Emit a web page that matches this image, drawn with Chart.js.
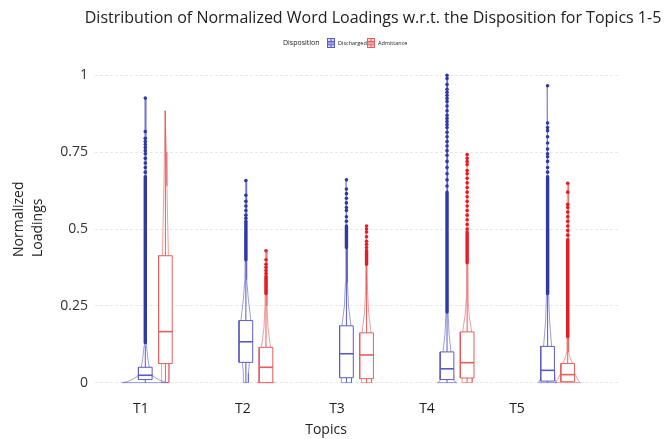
<!DOCTYPE html>
<html>
<head>
<meta charset="utf-8">
<script src="https://cdn.jsdelivr.net/npm/chart.js@4/dist/chart.umd.min.js"></script>
<style>
	body { margin: 0; background: #fff; }
	#wrap { width: 666px; height: 439px; }
</style>
</head>
<body>
<div id="wrap"><canvas id="topicChart"></canvas></div>
<script>
const topics = ['T1', 'T2', 'T3', 'T4', 'T5'];
const yTicks = [0, 0.25, 0.5, 0.75, 1];

// Discharged: box stats, whisker top, dense outlier run, single outliers, violin profile [value, density]
const dischargedQ1 = [0.01, 0.066, 0.016, 0.01, 0.005];
const dischargedMedian = [0.024, 0.133, 0.094, 0.045, 0.04];
const dischargedQ3 = [0.05, 0.202, 0.185, 0.10, 0.118];
const dischargedWhisker = [0.12, 0.40, 0.44, 0.23, 0.29];
const dischargedDense = [[0.13, 0.67], [0.40, 0.525], [0.44, 0.51], [0.23, 0.62], [0.29, 0.67]];
const dischargedOutliers = [
	[0.926, 0.817, 0.795, 0.785, 0.775, 0.765, 0.755, 0.745, 0.73, 0.715, 0.70, 0.685],
	[0.658, 0.61, 0.59, 0.575, 0.56, 0.545, 0.535],
	[0.66, 0.63, 0.615, 0.60, 0.585, 0.57, 0.56, 0.54, 0.525],
	[1.0, 0.99, 0.97, 0.955, 0.945, 0.935, 0.925, 0.915, 0.90, 0.885, 0.87, 0.86, 0.85, 0.84, 0.83, 0.815, 0.80, 0.785, 0.77, 0.755, 0.74, 0.72, 0.70, 0.68, 0.66, 0.64],
	[0.966, 0.845, 0.83, 0.82, 0.80, 0.78, 0.76, 0.745, 0.735, 0.72, 0.70, 0.685]
];
const dischargedViolin = [
	[[0, 23], [0.003, 18], [0.01, 13], [0.02, 8], [0.03, 6], [0.05, 4], [0.08, 2.5], [0.12, 1.2], [0.2, 0.6], [0.926, 0.4]],
	[[0, 2.5], [0.03, 2.5], [0.066, 3.5], [0.13, 6], [0.2, 5], [0.27, 2.5], [0.335, 1], [0.45, 0.6], [0.658, 0.4]],
	[[0, 5], [0.016, 5], [0.1, 6], [0.185, 4.5], [0.25, 2], [0.325, 1], [0.45, 0.6], [0.66, 0.4]],
	[[0, 9.5], [0.006, 7], [0.05, 6], [0.1, 4], [0.16, 2], [0.23, 1], [0.5, 0.6], [1.0, 0.4]],
	[[0, 9], [0.01, 7.5], [0.04, 7], [0.118, 4], [0.2, 2], [0.29, 1], [0.5, 0.6], [0.966, 0.4]]
];

// Admittance
const admittanceQ1 = [0.062, 0.0, 0.013, 0.015, 0.003];
const admittanceMedian = [0.166, 0.05, 0.09, 0.065, 0.026];
const admittanceQ3 = [0.413, 0.115, 0.162, 0.165, 0.062];
const admittanceWhisker = [0.885, 0.288, 0.385, 0.39, 0.15];
const admittanceDense = [null, [0.29, 0.34], [0.385, 0.43], [0.39, 0.49], [0.15, 0.465]];
const admittanceOutliers = [
	[],
	[0.429, 0.40, 0.385, 0.375, 0.365, 0.355, 0.345],
	[0.51, 0.50, 0.49, 0.475, 0.46, 0.45, 0.44],
	[0.742, 0.73, 0.72, 0.71, 0.69, 0.68, 0.665, 0.65, 0.635, 0.62, 0.605, 0.59, 0.575, 0.56, 0.545, 0.53, 0.515, 0.50],
	[0.649, 0.62, 0.58, 0.57, 0.555, 0.54, 0.525, 0.51, 0.495, 0.48]
];
const admittanceViolin = [
	[[0, 3.5], [0.062, 3.5], [0.2, 4], [0.413, 3], [0.64, 1.5], [0.75, 1], [0.885, 0.4]],
	[[0, 8.5], [0.005, 6], [0.05, 6], [0.115, 4.5], [0.18, 2], [0.25, 1], [0.429, 0.4]],
	[[0, 5], [0.013, 5], [0.09, 6], [0.162, 4.5], [0.23, 2], [0.3, 1], [0.51, 0.4]],
	[[0, 5], [0.015, 5], [0.065, 6], [0.165, 4.5], [0.22, 2], [0.27, 1], [0.742, 0.4]],
	[[0, 12.5], [0.01, 10], [0.03, 7], [0.062, 5], [0.08, 2.5], [0.1, 1], [0.15, 0.8], [0.649, 0.4]]
];

// layout bits
const DODGE = 0.1;
const BOX_HALF = 0.068;
const VIOLIN_UNIT = 0.01;
const TICK_OFFSET = [-0.143, -0.129, -0.194, -0.299, -0.404];
const FONT = "'Open Sans', sans-serif";

const series = [
	{ q1: dischargedQ1, med: dischargedMedian, q3: dischargedQ3, wh: dischargedWhisker, dense: dischargedDense, out: dischargedOutliers, violin: dischargedViolin,
		shift: -DODGE, line: '#5b5bc6', violinLine: 'rgba(91, 91, 198, 0.75)', dot: '#2d3aa5' },
	{ q1: admittanceQ1, med: admittanceMedian, q3: admittanceQ3, wh: admittanceWhisker, dense: admittanceDense, out: admittanceOutliers, violin: admittanceViolin,
		shift: DODGE, line: '#e45e5e', violinLine: 'rgba(228, 94, 94, 0.75)', dot: '#e31d24' }
];

function lineSet(data, color, width, order, extra) {
	return Object.assign({
		data: data,
		showLine: true,
		borderColor: color,
		borderWidth: width,
		pointRadius: 0,
		fill: false,
		tension: 0,
		order: order
	}, extra || {});
}

const datasets = [];
series.forEach(s => {
	topics.forEach((t, i) => {
		const c = i + 1 + s.shift;

		const prof = s.violin[i];
		const left = prof.map(p => ({ x: c - p[1] * VIOLIN_UNIT, y: p[0] }));
		const right = prof.slice().reverse().map(p => ({ x: c + p[1] * VIOLIN_UNIT, y: p[0] }));
		datasets.push(lineSet(left.concat(right, [left[0]]), s.violinLine, 0.8, 5));

		const whiskers = [
			{ x: c, y: s.q3[i] }, { x: c, y: s.wh[i] }, { x: c, y: null },
			{ x: c, y: 0 }, { x: c, y: s.q1[i] }
		];
		datasets.push(lineSet(whiskers, s.line, 1, 4));

		const box = [
			{ x: c - BOX_HALF, y: s.q1[i] }, { x: c + BOX_HALF, y: s.q1[i] },
			{ x: c + BOX_HALF, y: s.q3[i] }, { x: c - BOX_HALF, y: s.q3[i] },
			{ x: c - BOX_HALF, y: s.q1[i] }
		];
		datasets.push(lineSet(box, s.line, 1, 3, { fill: 'shape', backgroundColor: '#ffffff' }));

		datasets.push(lineSet([{ x: c - BOX_HALF, y: s.med[i] }, { x: c + BOX_HALF, y: s.med[i] }], s.line, 1.6, 2));

		if (s.dense[i]) {
			datasets.push(lineSet([{ x: c, y: s.dense[i][0] }, { x: c, y: s.dense[i][1] }], s.dot, 3.4, 1, { borderCapStyle: 'round' }));
		}

		datasets.push({
			data: s.out[i].map(v => ({ x: c, y: v })),
			showLine: false,
			pointRadius: 1.8,
			pointBorderWidth: 0,
			pointBackgroundColor: s.dot,
			order: 0
		});
	});
});

function drawKey(ctx, x, y, w, h, color, fill) {
	ctx.save();
	ctx.fillStyle = fill;
	ctx.fillRect(x, y, w, h);
	ctx.strokeStyle = color;
	ctx.lineWidth = 1;
	ctx.strokeRect(x + 0.5, y + 0.5, w - 1, h - 1);
	ctx.beginPath();
	ctx.moveTo(x + 1, y + h * 0.35); ctx.lineTo(x + w - 1, y + h * 0.35);
	ctx.moveTo(x + 1, y + h * 0.5); ctx.lineTo(x + w - 1, y + h * 0.5);
	ctx.moveTo(x + 1, y + h * 0.68); ctx.lineTo(x + w - 1, y + h * 0.68);
	ctx.moveTo(x + w / 2, y); ctx.lineTo(x + w / 2, y + h * 0.35);
	ctx.moveTo(x + w / 2, y + h * 0.68); ctx.lineTo(x + w / 2, y + h);
	ctx.stroke();
	ctx.restore();
}

const textPlugin = {
	id: 'texts',
	afterDraw(chart) {
		const ctx = chart.ctx;
		ctx.save();
		ctx.fillStyle = '#222';
		ctx.textBaseline = 'middle';

		ctx.textAlign = 'center';
		ctx.font = `16px ${FONT}`;
		ctx.fillText('Distribution of Normalized Word Loadings w.r.t. the Disposition for Topics 1-5', 373, 18);

		ctx.textAlign = 'left';
		ctx.font = `7px ${FONT}`;
		ctx.fillText('Disposition', 283, 43);
		drawKey(ctx, 327, 38, 8, 10, series[0].line, '#d9d9f3');
		drawKey(ctx, 367, 38, 8, 10, series[1].line, '#f8d8d8');
		ctx.font = `5.5px ${FONT}`;
		ctx.fillText('Discharged', 338, 43);
		ctx.fillText('Admittance', 378, 43);

		ctx.textAlign = 'center';
		ctx.font = `14px ${FONT}`;
		ctx.fillText('Topics', 326, 430);

		ctx.translate(0, 257);
		ctx.rotate(-Math.PI / 2);
		ctx.textAlign = 'left';
		ctx.fillText('Normalized', 0, 19);
		ctx.fillText('Loadings', 0, 38);
		ctx.restore();
	}
};

new Chart(document.getElementById('topicChart'), {
	type: 'scatter',
	data: { datasets: datasets },
	plugins: [textPlugin],
	options: {
		responsive: true,
		maintainAspectRatio: false,
		animation: false,
		events: [],
		layout: { padding: { top: 60, right: 48, left: 0, bottom: 0 } },
		plugins: {
			legend: { display: false },
			tooltip: { enabled: false }
		},
		scales: {
			x: {
				type: 'linear',
				min: 0.4,
				max: 5.6,
				afterFit: scale => { scale.height = 41; },
				afterBuildTicks: scale => {
					scale.ticks = topics.map((t, i) => ({ value: i + 1 + TICK_OFFSET[i] }));
				},
				ticks: {
					autoSkip: false,
					maxRotation: 0,
					padding: 3,
					color: '#222',
					font: { family: FONT, size: 14 },
					callback: (v, i) => topics[i]
				},
				grid: { display: false, drawTicks: false },
				border: { display: false }
			},
			y: {
				min: -0.05,
				max: 1.05,
				afterFit: scale => { scale.width = 95; },
				afterBuildTicks: scale => {
					scale.ticks = yTicks.map(v => ({ value: v }));
				},
				ticks: {
					padding: 7,
					color: '#333',
					font: { family: FONT, size: 14 },
					callback: v => String(v)
				},
				grid: { color: '#e8e8e8', lineWidth: 1, drawTicks: false },
				border: { display: false, dash: [3, 2] }
			}
		}
	}
});
</script>
</body>
</html>
